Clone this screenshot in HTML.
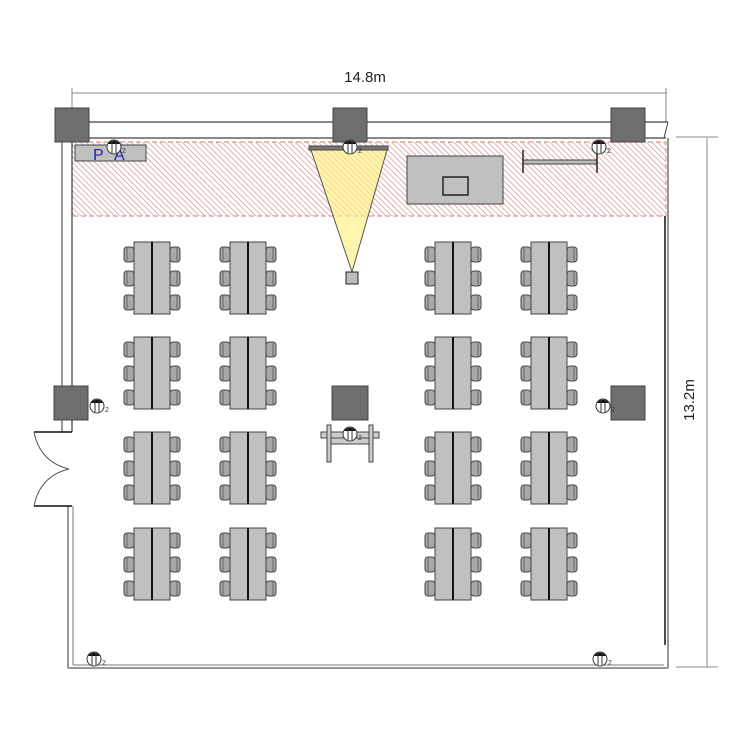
<!DOCTYPE html>
<html><head><style>body{margin:0;background:#fff}svg{display:block}</style></head><body>
<svg width="750" height="750" viewBox="0 0 750 750" xmlns="http://www.w3.org/2000/svg" font-family="Liberation Sans, sans-serif">
<defs>
<pattern id="h" width="4" height="4" patternUnits="userSpaceOnUse" patternTransform="rotate(-45)">
<line x1="0" y1="0" x2="0" y2="4" stroke="#d08080" stroke-width="1.2"/>
</pattern>
<g id="ch"><rect x="0" y="0" width="10" height="15" rx="3" fill="#a8a8a8" stroke="#444" stroke-width="1"/><line x1="3" y1="1" x2="3" y2="14" stroke="#555" stroke-width="0.8"/></g>
<g id="t">
<use href="#ch" x="124" y="247"/><use href="#ch" x="124" y="271"/><use href="#ch" x="124" y="295"/>
<g transform="translate(304,0) scale(-1,1)"><use href="#ch" x="124" y="247"/><use href="#ch" x="124" y="271"/><use href="#ch" x="124" y="295"/></g>
<rect x="134" y="242" width="36" height="72" fill="#c0c0c0" stroke="#444" stroke-width="1"/>
<line x1="152" y1="242" x2="152" y2="314" stroke="#111" stroke-width="2"/>
</g>
<g id="lamp"><circle cx="0" cy="0" r="7" fill="#fff" stroke="#333" stroke-width="1"/><path d="M-6,-3 A7,7 0 0 1 6,-3 Z" fill="#111"/><line x1="-2" y1="-6" x2="-2" y2="6" stroke="#333"/><line x1="2" y1="-6" x2="2" y2="6" stroke="#333"/><text x="8" y="6" font-size="7" fill="#333">2</text></g>
</defs>
<!-- dimensions -->
<line x1="72" y1="93" x2="667" y2="93" stroke="#888"/>
<line x1="72" y1="88" x2="72" y2="122" stroke="#888"/>
<line x1="666" y1="88" x2="666" y2="122" stroke="#888"/>
<text x="365" y="82" font-size="15" text-anchor="middle" fill="#222">14.8m</text>
<line x1="707" y1="138" x2="707" y2="667" stroke="#888"/>
<line x1="676" y1="137" x2="718" y2="137" stroke="#888"/>
<line x1="676" y1="667" x2="718" y2="667" stroke="#888"/>
<text x="0" y="0" font-size="15" text-anchor="middle" fill="#222" transform="translate(694,400) rotate(-90)">13.2m</text>
<!-- hatched zone -->
<rect x="72" y="142" width="594" height="74" fill="url(#h)" stroke="#d08080" stroke-dasharray="5,3"/>
<!-- walls -->
<line x1="72" y1="122" x2="668" y2="122" stroke="#111"/>
<line x1="72" y1="138" x2="666" y2="138" stroke="#111"/>
<line x1="668" y1="122" x2="664" y2="138" stroke="#444"/>
<line x1="62" y1="142" x2="62" y2="432" stroke="#777" stroke-width="1.5"/>
<line x1="72" y1="142" x2="72" y2="432" stroke="#111"/>
<line x1="68" y1="506" x2="68" y2="668" stroke="#777" stroke-width="1.5"/>
<line x1="73" y1="506" x2="73" y2="665" stroke="#777"/>
<line x1="68" y1="668" x2="668" y2="668" stroke="#777" stroke-width="1.5"/>
<line x1="73" y1="665" x2="664" y2="665" stroke="#777"/>
<line x1="668" y1="138" x2="668" y2="668" stroke="#777" stroke-width="1.5"/>
<line x1="665" y1="216" x2="665" y2="645" stroke="#111" stroke-width="1.5"/>
<!-- door -->
<line x1="34" y1="432" x2="72" y2="432" stroke="#111" stroke-width="1.5"/>
<line x1="34" y1="506" x2="72" y2="506" stroke="#111" stroke-width="1.5"/>
<path d="M34,432 Q40,462 69,469 Q40,476 34,506" fill="none" stroke="#555"/>
<!-- columns -->
<g fill="#6e6e6e" stroke="#444">
<rect x="55" y="108" width="34" height="34"/><rect x="333" y="108" width="34" height="34"/><rect x="611" y="108" width="34" height="34"/>
<rect x="54" y="386" width="34" height="34"/><rect x="611" y="386" width="34" height="34"/><rect x="332" y="386" width="36" height="34"/>
</g>
<!-- PA -->
<rect x="75" y="145" width="71" height="16" fill="#c0c0c0" stroke="#444"/>
<text x="93" y="160" font-size="16" fill="#2222bb">P</text><text x="114" y="160" font-size="16" fill="#2222bb">A</text>
<use href="#lamp" x="114" y="147"/>
<!-- screen / projector -->
<polygon points="311,150 387,150 352,272" fill="#fff080" fill-opacity="0.65" stroke="#555"/>
<rect x="309" y="146" width="79" height="4" fill="#777" stroke="#444"/>
<rect x="346" y="272" width="12" height="12" fill="#bbb" stroke="#222"/>
<use href="#lamp" x="350" y="147"/>
<!-- stage -->
<rect x="407" y="156" width="96" height="48" fill="#c0c0c0" stroke="#444"/>
<rect x="443" y="177" width="25" height="18" fill="#c0c0c0" stroke="#222" stroke-width="1.5"/>
<rect x="523" y="160" width="74" height="4" fill="#bbb" stroke="#444"/>
<line x1="523" y1="150" x2="523" y2="173" stroke="#222" stroke-width="1.5"/>
<line x1="597" y1="150" x2="597" y2="173" stroke="#222" stroke-width="1.5"/>
<use href="#lamp" x="599" y="147"/>
<!-- podium -->
<rect x="321" y="432" width="58" height="6" fill="#ccc" stroke="#444"/>
<rect x="327" y="425" width="4" height="37" fill="#ccc" stroke="#444"/>
<rect x="369" y="425" width="4" height="37" fill="#ccc" stroke="#444"/>
<rect x="331" y="438" width="38" height="6" fill="#ccc" stroke="#444"/>
<use href="#lamp" x="350" y="434"/>
<use href="#lamp" x="97" y="406"/>
<use href="#lamp" x="603" y="406"/>
<use href="#lamp" x="94" y="659"/>
<use href="#lamp" x="600" y="659"/>
<!-- tables -->
<g>
<use href="#t"/><use href="#t" x="96"/><use href="#t" x="301"/><use href="#t" x="397"/>
<use href="#t" y="95"/><use href="#t" x="96" y="95"/><use href="#t" x="301" y="95"/><use href="#t" x="397" y="95"/>
<use href="#t" y="190"/><use href="#t" x="96" y="190"/><use href="#t" x="301" y="190"/><use href="#t" x="397" y="190"/>
<use href="#t" y="286"/><use href="#t" x="96" y="286"/><use href="#t" x="301" y="286"/><use href="#t" x="397" y="286"/>
</g>
</svg>
</body></html>
